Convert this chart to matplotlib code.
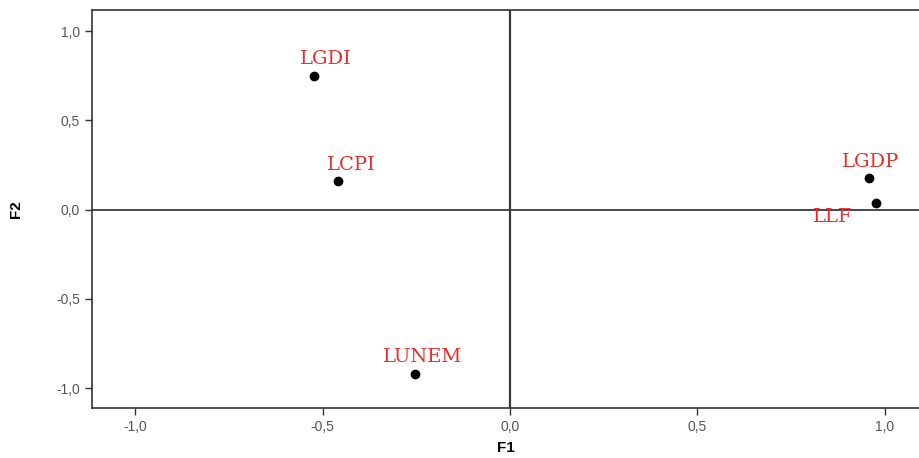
import matplotlib
matplotlib.use("Agg")
import matplotlib.pyplot as plt
from matplotlib.ticker import FuncFormatter

# cargas factoriales (F1, F2)
variables = ["LGDI", "LCPI", "LUNEM", "LGDP", "LLF"]
f1 = [-0.523, -0.459, -0.253, 0.957, 0.976]
f2 = [0.750, 0.162, -0.924, 0.179, 0.034]

# desplazamiento de las etiquetas (pixeles)
desplaz = [(-14, 17), (-11, 16), (-32, 17), (-27, 16), (-63, -14)]

ticks = [-1.0, -0.5, 0.0, 0.5, 1.0]

fig = plt.figure(figsize=(9.19, 4.58), dpi=100)
ax = fig.add_axes([92 / 919, 1 - 408 / 458, 1 - 92 / 919, 398 / 458])

ax.set_xlim(-1.115, 1.091)
ax.set_ylim(-1.112, 1.118)

ax.axvline(0, color="#3a3a3a", lw=1.6, zorder=1)
ax.axhline(0, color="#3a3a3a", lw=1.3, zorder=1)

ax.plot(f1, f2, "o", color="black", markersize=6, zorder=3)

for nombre, x, y, (dx, dy) in zip(variables, f1, f2, desplaz):
    ax.annotate(nombre, (x, y), xytext=(dx, dy), textcoords="offset pixels",
                ha="left", va="center", color="#ee2a2a",
                family="DejaVu Serif", fontsize=14, annotation_clip=False)

coma = FuncFormatter(lambda v, p: f"{v:.1f}".replace(".", ","))
ax.set_xticks(ticks)
ax.set_yticks(ticks)
ax.xaxis.set_major_formatter(coma)
ax.yaxis.set_major_formatter(coma)
ax.tick_params(direction="out", length=5, width=1, color="#333333",
               labelcolor="#555555", labelsize=10)
for lbl in ax.get_xticklabels() + ax.get_yticklabels():
    lbl.set_family("Liberation Sans")

for lado in ["left", "bottom", "top"]:
    ax.spines[lado].set_color("#333333")
    ax.spines[lado].set_linewidth(1.2)
ax.spines["right"].set_visible(False)

ax.set_xlabel("F1", family="Liberation Sans", fontweight="bold", fontsize=11, labelpad=5)
ax.set_ylabel("F2", family="Liberation Sans", fontweight="bold", fontsize=11, labelpad=24)

fig.savefig("out.png", dpi=100)
